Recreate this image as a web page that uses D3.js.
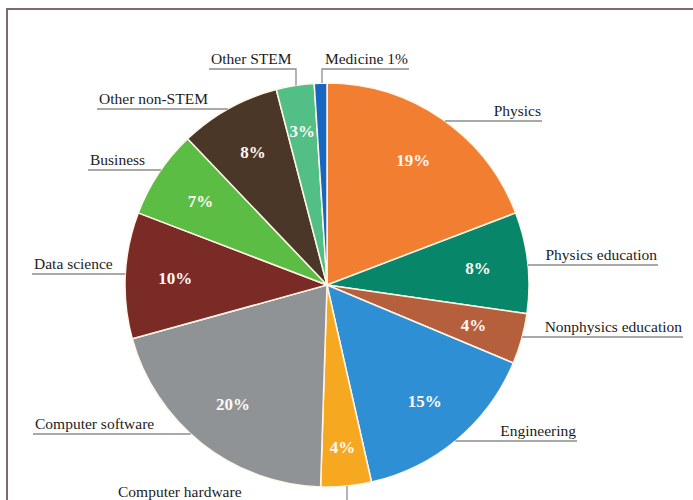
<!DOCTYPE html>
<html>
<head>
<meta charset="utf-8">
<script src="https://cdn.jsdelivr.net/npm/d3@7/dist/d3.min.js"></script>
<style>
  html, body { margin: 0; padding: 0; background: #fff; }
  svg { display: block; }
  .callout { font-family: "Liberation Serif", "DejaVu Serif", serif; font-size: 15.5px; fill: #1c1c1c; }
  .pct { font-family: "Liberation Serif", "DejaVu Serif", serif; font-size: 17px; font-weight: bold; fill: #fff8f4; }
</style>
</head>
<body>
<div id="chart"></div>
<script>
// slices, clockwise from 12 o'clock
var categories = ['Physics', 'Physics education', 'Nonphysics education', 'Engineering',
  'Computer hardware', 'Computer software', 'Data science', 'Business',
  'Other non-STEM', 'Other STEM', 'Medicine'];
var shares = [19, 8, 4, 15, 4, 20, 10, 7, 8, 3, 1];
var colors = ['#f27f31', '#08866a', '#b65f3d', '#2f8fd5', '#f6a821', '#8f9396',
  '#7a2b25', '#5cbd45', '#4a3727', '#52bf86', '#1766c2'];
// which labels say the number inside the slice
var inside = [true, true, true, true, true, true, true, true, true, true, false];

// callout placement: underline height and far end of the underline
// 'h' = horizontal line from the pie edge, 'v' = short vertical leader then underline
var callouts = [
  { name: 'Physics',              kind: 'h', y: 121, end: 542 },
  { name: 'Physics education',    kind: 'h', y: 265, end: 658 },
  { name: 'Nonphysics education', kind: 'h', y: 337, end: 683 },
  { name: 'Engineering',          kind: 'h', y: 441, end: 577 },
  { name: 'Computer hardware',    kind: 'v', x: 347, y: 502, end: 116 },
  { name: 'Computer software',    kind: 'h', y: 434, end: 33 },
  { name: 'Data science',         kind: 'h', y: 274, end: 32 },
  { name: 'Business',             kind: 'h', y: 170, end: 88 },
  { name: 'Other non-STEM',       kind: 'h', y: 109, end: 97 },
  { name: 'Other STEM',           kind: 'v', x: 296, y: 69, end: 209 },
  { name: 'Medicine',             kind: 'v', x: 322, y: 69, end: 409, text: 'Medicine 1%' }
];
// thin slices push their number further out
var pctRadius = { 'Computer hardware': 163, 'Other STEM': 156 };

var width = 693, height = 500
  , cx = 327, cy = 285, radius = 202;

var svg = d3.select('#chart').append('svg')
  .attr('width', width)
  .attr('height', height);

// frame (only top and left edges are inside the picture)
svg.append('path')
  .attr('d', 'M7,' + (height + 5) + 'V9H' + (width + 5))
  .attr('fill', 'none')
  .attr('stroke', '#806873')
  .attr('stroke-width', 2);

var data = categories.map(function(c, i) {
  return { name: c, value: shares[i], color: colors[i], inside: inside[i] };
});

var pie = d3.pie()
  .sort(null)
  .value(function(d) { return d.value; });

var arc = d3.arc().innerRadius(0).outerRadius(radius);

var g = svg.append('g').attr('transform', 'translate(' + cx + ',' + cy + ')');

g.selectAll('path.slice')
  .data(pie(data))
  .enter().append('path')
  .attr('class', 'slice')
  .attr('d', arc)
  .attr('fill', function(d) { return d.data.color; })
  .attr('stroke', '#fff6e8')
  .attr('stroke-width', 1.5);

g.selectAll('text.pct')
  .data(pie(data).filter(function(d) { return d.data.inside; }))
  .enter().append('text')
  .attr('class', 'pct')
  .attr('text-anchor', 'middle')
  .attr('dy', '0.35em')
  .attr('transform', function(d) {
    var r = pctRadius[d.data.name] || 152;
    var a = d3.arc().innerRadius(r).outerRadius(r);
    return 'translate(' + a.centroid(d) + ')';
  })
  .text(function(d) { return d.data.value + '%'; });

// x on the pie rim at height y, on the left or right side
function rimX(y, side) {
  var dy = y - cy;
  return cx + side * Math.sqrt(radius * radius - dy * dy);
}
function rimY(x, side) {
  var dx = x - cx;
  return cy + side * Math.sqrt(radius * radius - dx * dx);
}

var lines = svg.append('g')
  .attr('fill', 'none')
  .attr('stroke', '#8c8c8c')
  .attr('stroke-width', 1.3);

callouts.forEach(function(c) {
  var label = c.text || c.name;
  var toRight, pts;
  if (c.kind === 'h') {
    toRight = c.end > cx;
    var x0 = rimX(c.y, toRight ? 1 : -1);
    pts = [[x0, c.y], [c.end, c.y]];
  } else {
    toRight = c.end > c.x;
    var yRim = rimY(c.x, c.y > cy ? 1 : -1);
    pts = [[c.x, yRim], [c.x, c.y], [c.end, c.y]];
  }
  lines.append('path').attr('d', d3.line()(pts));

  svg.append('text')
    .attr('class', 'callout')
    .attr('x', toRight ? c.end - 1 : c.end + 2)
    .attr('y', c.y - 5)
    .attr('text-anchor', toRight ? 'end' : 'start')
    .text(label);
});
</script>
</body>
</html>
